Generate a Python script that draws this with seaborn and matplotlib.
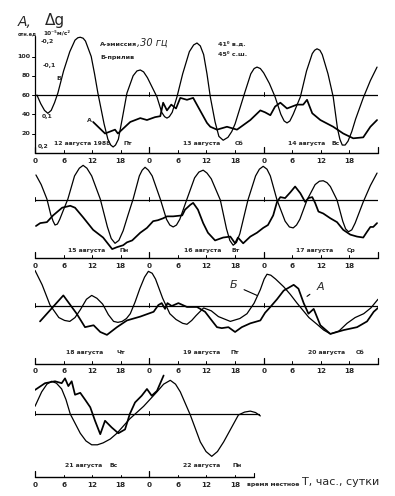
import numpy as np
import pandas as pd
import matplotlib
matplotlib.use('Agg')
import matplotlib.pyplot as plt
import seaborn as sns

# --- data: hours from start of each 3-day strip, values in "отн.ед" of A ---
# strip 1: 12-14 August
b1_h = [0.4, 1.2, 2.0, 2.7, 3.4, 4.1, 4.8, 6, 7.3, 8.4, 9.0, 9.5, 10.1, 10.6, 11.8, 12.5, 13.2, 14.5,
        15.3, 15.9, 16.4, 16.9, 17.5, 18.3, 19.3, 20.6, 21.4, 22.1, 22.8, 23.6, 24.6, 25.6, 26.6, 27.2,
        27.7, 28.2, 28.8, 29.8, 31, 32.4, 33.3, 34, 34.7, 35.4, 36.1, 36.8, 37.8, 38.6, 39.5, 40.5, 41.3,
        42, 43, 44, 45.3, 46, 46.6, 47.3, 48, 49.2, 50.4, 51.6, 52.3, 52.9, 53.5, 54.2, 55.7, 57, 58.2,
        58.7, 59.2, 59.8, 60.3, 61.5, 62.6, 63.5, 64, 64.5, 65.1, 65.7, 66.5, 67.3, 68.9, 70.4, 71.8]
b1_v = [60, 51, 44, 41, 44, 52, 62, 85, 105, 117, 119.5, 120, 119, 116, 100, 82, 62, 30,
        14, 8, 6, 8, 14, 35, 62, 80, 85, 86, 84, 78, 68, 58, 42, 37.5,
        36, 37.5, 42, 58, 82, 105, 112, 114, 111, 102, 82, 58, 32, 17, 13, 16, 22,
        30, 46, 62, 82, 87.5, 89, 87.5, 83, 72, 58, 40, 33, 31, 33, 40, 58, 85, 103,
        106.5, 108, 106.5, 102, 82, 58, 25, 14, 8, 8, 12, 22, 35, 57, 75, 89]
a1_h = [12.2, 14.7, 16.8, 17.4, 20.0, 22.1, 23.5, 25.2, 26.3, 26.9, 27.7, 28.6, 29.6, 30.5, 31.9, 33.2,
        34.2, 36.1, 36.8, 38.2, 40.3, 42.4, 45.2, 47.3, 48.3, 49.4, 50.4, 51.5, 52.9, 55.0, 56.3, 57.1,
        58.2, 59.9, 62.6, 64.7, 66.8, 68.9, 70.4, 71.8]
a1_v = [32, 20, 24, 20, 32, 36, 34, 37, 38, 52, 44, 50, 46, 57, 55, 57,
        48, 31, 27, 24, 27, 24, 34, 44, 42, 39, 48, 52, 46, 50, 50, 55,
        41, 34, 27, 20, 15, 16, 27, 34]

# strip 2: 15-17 August
b2_h = [0.2, 1.3, 2.5, 3.3, 3.8, 4.2, 4.7, 5.2, 6, 6.9, 8.3, 9.3, 10.1, 10.9, 11.9, 13.7, 15.2, 16.0,
        16.8, 17.6, 18.5, 19.5, 20.6, 21.9, 22.5, 23.1, 23.8, 24.6, 26.3, 27.6, 28.3, 29, 29.7, 30.4,
        31.9, 33.5, 34.4, 35.3, 36.1, 37, 38.9, 40.2, 40.9, 41.6, 42.3, 43, 44.7, 46.3, 47.1, 47.9, 48.7,
        49.4, 50.8, 52.5, 53.4, 54.2, 54.9, 55.6, 57.1, 58.8, 59.7, 60.5, 61.3, 62, 63.4, 64.6, 65.2,
        65.8, 66.5, 67.2, 68.9, 70.4, 71.8]
b2_v = [86, 76, 61, 45, 38, 34, 35, 40, 50, 61, 85, 93, 96, 93, 85, 61, 32, 20,
        15, 18, 28, 44, 61, 85, 91, 94, 91, 85, 61, 40, 34, 32, 34, 40,
        61, 83, 89, 91, 88, 82, 60, 30, 18, 13, 16, 25, 60, 85, 92, 95, 92,
        85, 60, 38, 32, 31, 34, 40, 60, 76, 79.5, 80, 78, 74, 60, 38, 30,
        27, 29, 36, 58, 75, 88]
a2_h = [0.2, 1.1, 2.5, 3.8, 5.7, 7.4, 8.4, 10.1, 12.2, 14.3, 16.2, 17.2, 18.5, 19.3, 20.4, 22.1, 23.5,
        24.8, 25.8, 26.9, 27.7, 29.0, 30.9, 31.5, 32.6, 33.2, 34.2, 35.3, 36.3, 37.8, 39.5, 41.0, 42.0,
        42.6, 43.7, 45.2, 46.6, 47.9, 48.9, 50.0, 50.8, 51.5, 52.5, 53.6, 54.6, 55.7, 56.7, 57.4, 58.2,
        58.8, 59.5, 60.5, 62.0, 63.4, 64.7, 66.2, 67.6, 68.9, 69.7, 70.4, 71.0, 71.8]
a2_v = [33, 36, 37, 44, 52, 54, 52, 42, 29, 21, 9, 11, 13, 16, 18, 26, 31,
        38, 39, 41, 43, 43, 44, 50, 55, 57, 50, 36, 26, 18, 21, 22, 15,
        21, 15, 22, 26, 31, 34, 44, 58, 63, 62, 68, 74, 67, 58, 62, 63,
        57, 48, 46, 41, 37, 29, 24, 22, 21, 27, 32, 32, 36]

# strip 3: 18-20 August
b3_h = [0, 1.5, 3.15, 5, 6.2, 7.3, 8.4, 9.5, 10.8, 11.9, 13, 14.2, 15.4, 16.5, 17.4, 18.3, 19.2, 20,
        21, 22, 23, 23.8, 24.6, 25.3, 26.8, 28.3, 29.6, 31, 31.9, 32.9, 33.8, 35.4, 37, 38.5, 41, 43,
        44.5, 46, 47.3, 48.1, 48.7, 49.5, 50.5, 52.2, 53.6, 55, 57.5, 59.2, 60.6, 62, 63.8, 65.5, 67.2,
        69, 70.5, 72]
b3_v = [97, 82, 61, 48, 45, 44, 48, 56, 67, 71, 68, 62, 51, 44, 43, 44, 47, 52,
        64, 78, 90, 96, 94, 88, 68, 52, 46, 42, 41, 45, 50, 58, 55, 49, 44, 47,
        52, 63, 77, 88, 93, 92, 88, 80, 72, 63, 48, 41, 35, 31, 34, 42, 48,
        52, 58, 67]
a3_h = [1.05, 5.95, 8.75, 10.5, 12.3, 13.7, 15.1, 17.2, 19.3, 22.1, 24.9, 25.9, 26.6, 27.3, 27.8, 28.7,
        30.1, 31.9, 34.0, 35.7, 37.1, 38.2, 39.2, 40.6, 42.0, 43.4, 45.2, 47.3, 48.3, 49.4, 50.8, 52.2,
        54.3, 55.3, 56.4, 57.4, 58.5, 59.9, 62.0, 64.8, 67.6, 69.7, 71.1, 72.0]
a3_v = [44, 71, 52, 38, 40, 33, 30, 38, 45, 49, 54, 61, 63, 57, 63, 60,
        63, 59, 59, 54, 45, 38, 37, 38, 33, 38, 42, 45, 53, 59, 67, 76,
        82, 78, 63, 52, 57, 40, 31, 35, 38, 44, 54, 58]

# strip 4: 21-22 August
b4_h = [0, 1.4, 2.5, 3.5, 4.5, 5.6, 6.5, 7.4, 9.5, 10.7, 11.9, 13.1, 14.3, 15.8, 17.2, 19.9, 22.8, 25.6,
        27, 28.4, 29.5, 30.5, 32.6, 34.7, 35.9, 37.1, 38.3, 39.6, 42.7, 44, 45.2, 46.3, 47.3]
b4_v = [68, 83, 91, 94, 92, 86, 75, 60, 40, 32, 28, 28, 30, 34, 40, 55, 68, 83,
        91, 95, 91, 83, 59, 31, 21, 16, 21, 31, 59, 62, 63, 61.5, 58]
a4_h = [0, 2.1, 4.2, 5.6, 6.3, 7.0, 7.7, 8.4, 9.5, 10.5, 11.6, 12.6, 13.7, 14.7, 16.1, 17.5, 18.9,
        19.9, 21, 22.4, 23.5, 24.5, 25.6, 27]
a4_v = [85, 92, 94, 92, 97, 89, 94, 80, 82, 75, 67, 53, 39, 53, 46, 40, 44,
        60, 72, 79, 86, 79, 84, 100]

hour_labels = ['0', '6', '12', '18']
dates = [
    [('12 августа 1988', 9.9), ('Пт', 19.5), ('13 августа', 35.0), ('Сб', 42.9),
     ('14 августа', 57.0), ('Вс', 63.2)],
    [('15 августа', 10.9), ('Пн', 18.7), ('16 августа', 35.1), ('Вт', 42.2),
     ('17 августа', 58.6), ('Ср', 66.4)],
    [('18 августа', 10.5), ('Чт', 18.1), ('19 августа', 34.9), ('Пт', 42.0),
     ('20 августа', 61.1), ('Сб', 68.3)],
    [('21 августа', 10.3), ('Вс', 16.4), ('22 августа', 34.9), ('Пн', 42.5)],
]

# --- layout (pixel geometry of the scan) ---
W, H = 395, 496
X0, X1 = 35, 378
S = 0.9625
YLO, YHI = -16, 125
refs = [95, 200, 306, 414]
axis_y = [0, 0, 0, -5.5]
date_y = [7, 5, 9, 4]
lab_y = [-5.5, -5.5, -4.4, -10.6]
ends = [72, 72, 72, 46]
ref_end = [72, 72, 72, 47]

sns.set_style('white')
plt.rcParams['font.family'] = ['DejaVu Sans']

fig = plt.figure(figsize=(W / 100, H / 100), dpi=100)
fig.patch.set_facecolor('white')

series = [(b1_h, b1_v, a1_h, a1_v), (b2_h, b2_v, a2_h, a2_v),
          (b3_h, b3_v, a3_h, a3_v), (b4_h, b4_v, a4_h, a4_v)]

axes = []
for k, r in enumerate(refs):
    bottom = r + (60 - YLO) * S
    top = r - (YHI - 60) * S
    ax = fig.add_axes([X0 / W, 1 - bottom / H, (X1 - X0) / W, (bottom - top) / H])
    ax.patch.set_alpha(0)
    bh, bv, ah, av = series[k]
    sns.lineplot(x=bh, y=bv, ax=ax, color='black', lw=0.9)
    sns.lineplot(x=ah, y=av, ax=ax, color='black', lw=1.25)
    ax.set_xlim(0, 72)
    ax.set_ylim(YLO, YHI)
    ax.axis('off')

    # reference (mean) line with small marks
    re = ref_end[k]
    ax.plot([0, re], [60, 60], color='black', lw=0.9)
    for t in (0, 24, 48, 72):
        if t <= re:
            ax.plot([t, t], [59, 63], color='black', lw=0.7)

    # time axis
    y0 = axis_y[k]
    e = ends[k]
    ax.plot([0, e], [y0, y0], color='black', lw=1.0, clip_on=False)
    for t in range(0, 73, 6):
        if t > e + 0.5:
            break
        if t % 24 == 0:
            ax.plot([t, t], [y0, y0 + 6], color='black', lw=0.9, clip_on=False)
        else:
            ax.plot([t, t], [y0, y0 + 2.5], color='black', lw=0.7, clip_on=False)
        if t < 72:
            ax.text(t, lab_y[k], hour_labels[(t % 24) // 6], ha='center', va='top',
                    fontsize=5.2, fontweight='bold')
    if k == 3:
        ax.plot([e, e], [y0, y0 + 4], color='black', lw=0.8, clip_on=False)
    for txt, hx in dates[k]:
        ax.text(hx, date_y[k], txt, ha='center', va='bottom', fontsize=4.4, fontweight='bold')
    axes.append(ax)

# y axis of the first strip
ax = axes[0]
ax.plot([0, 0], [0, 121], color='black', lw=0.9, clip_on=False)
for v in (20, 40, 60, 80, 100):
    ax.plot([-0.6, 0], [v, v], color='black', lw=0.7, clip_on=False)
    ax.text(-1.0, v, str(v), ha='right', va='center', fontsize=4.6, fontweight='bold')
for txt, hx, v in [('-0,2', 2.5, 116), ('-0,1', 2.9, 91), ('0,1', 2.5, 38), ('0,2', 1.7, 7)]:
    ax.text(hx, v, txt, ha='center', va='center', fontsize=4.4, fontweight='bold')
ax.text(5.0, 77, 'Б', ha='center', va='center', fontsize=4.6, fontweight='bold')
ax.text(11.4, 34, 'А', ha='center', va='center', fontsize=4.6, fontweight='bold')

# curve labels on the third strip
ax = axes[2]
ax.annotate('Б', xy=(46.6, 71), xytext=(41.6, 82), fontsize=8, style='italic',
            ha='center', va='center', arrowprops=dict(arrowstyle='-', lw=0.8, color='black',
                                                      shrinkA=3, shrinkB=0))
ax.annotate('А', xy=(57.1, 70), xytext=(59.9, 80), fontsize=8, style='italic',
            ha='center', va='center', arrowprops=dict(arrowstyle='-', lw=0.8, color='black',
                                                      shrinkA=3, shrinkB=0))

# the last strip: local time note
axes[3].text(44.5, lab_y[3], 'время местное', ha='left', va='top', fontsize=4.4, fontweight='bold')


def ft(x, y, s, **kw):
    fig.text(x / W, 1 - y / H, s, **kw)


ft(302, 482, 'T, час., сутки', ha='left', va='center', fontsize=8)
ft(25, 22, 'А,', ha='center', va='center', fontsize=10, style='italic')
ft(55, 20, 'Δg', ha='center', va='center', fontsize=11)
ft(27, 34, 'отн.ед', ha='center', va='center', fontsize=3.6, fontweight='bold')
ft(57, 33, '10⁻⁵м/с²', ha='center', va='center', fontsize=4.2, fontweight='bold')
ft(100, 44, 'А-эмиссия', ha='left', va='center', fontsize=4.6, fontweight='bold')
ft(137, 43, ',30 гц', ha='left', va='center', fontsize=7, style='italic')
ft(100, 57, 'Б-прилив', ha='left', va='center', fontsize=4.6, fontweight='bold')
ft(218, 44, '41⁰ в.д.', ha='left', va='center', fontsize=4.6, fontweight='bold')
ft(218, 55, '45⁰ с.ш.', ha='left', va='center', fontsize=4.6, fontweight='bold')

fig.savefig('out.png', dpi=100, facecolor='white')
